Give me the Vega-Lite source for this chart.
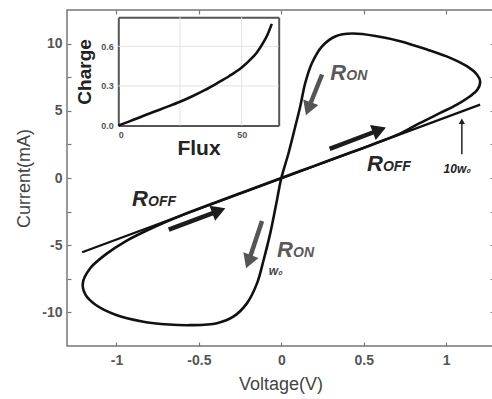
{
  "$schema": "https://vega.github.io/schema/vega-lite/v6.json",
  "width": 427,
  "height": 336,
  "autosize": {"type": "none"},
  "padding": {"left": 67, "top": 10, "right": 0, "bottom": 53},
  "background": "white",
  "config": {
    "view": {"stroke": "#777", "strokeWidth": 1.5},
    "font": "Liberation Sans",
    "axis": {"domain": false, "grid": false, "labelFont": "Liberation Sans", "titleFont": "Liberation Sans"}
  },
  "datasets": {
    "loop": [
      {"i": 0, "V": 0, "I": 0}, {"i": 1, "V": 0.2, "I": 0.9}, {"i": 2, "V": 0.4, "I": 1.8},
      {"i": 3, "V": 0.55, "I": 2.48}, {"i": 4, "V": 0.72, "I": 3.3}, {"i": 5, "V": 0.842, "I": 4.1},
      {"i": 6, "V": 0.964, "I": 4.84}, {"i": 7, "V": 1.065, "I": 5.46}, {"i": 8, "V": 1.145, "I": 6.08},
      {"i": 9, "V": 1.19, "I": 6.58}, {"i": 10, "V": 1.206, "I": 7.2}, {"i": 11, "V": 1.186, "I": 7.7},
      {"i": 12, "V": 1.125, "I": 8.32}, {"i": 13, "V": 1.024, "I": 8.94}, {"i": 14, "V": 0.883, "I": 9.56},
      {"i": 15, "V": 0.721, "I": 10.18}, {"i": 16, "V": 0.58, "I": 10.55}, {"i": 17, "V": 0.43, "I": 10.75},
      {"i": 18, "V": 0.33, "I": 10.55}, {"i": 19, "V": 0.247, "I": 9.8}, {"i": 20, "V": 0.186, "I": 8.56},
      {"i": 21, "V": 0.145, "I": 7.07}, {"i": 22, "V": 0.115, "I": 5.34}, {"i": 23, "V": 0.085, "I": 3.85},
      {"i": 24, "V": 0.044, "I": 1.86}, {"i": 25, "V": 0, "I": 0}, {"i": 26, "V": -0.026, "I": -1.61},
      {"i": 27, "V": -0.067, "I": -4.1}, {"i": 28, "V": -0.107, "I": -6.08}, {"i": 29, "V": -0.147, "I": -7.82},
      {"i": 30, "V": -0.208, "I": -9.31}, {"i": 31, "V": -0.289, "I": -10.3}, {"i": 32, "V": -0.39, "I": -10.8},
      {"i": 33, "V": -0.55, "I": -10.95}, {"i": 34, "V": -0.683, "I": -10.9}, {"i": 35, "V": -0.844, "I": -10.67},
      {"i": 36, "V": -1.006, "I": -10.17}, {"i": 37, "V": -1.127, "I": -9.43}, {"i": 38, "V": -1.188, "I": -8.68},
      {"i": 39, "V": -1.204, "I": -7.82}, {"i": 40, "V": -1.158, "I": -6.7}, {"i": 41, "V": -1.067, "I": -5.7},
      {"i": 42, "V": -0.945, "I": -4.71}, {"i": 43, "V": -0.784, "I": -3.72}, {"i": 44, "V": -0.6, "I": -2.75},
      {"i": 45, "V": -0.4, "I": -1.82}, {"i": 46, "V": -0.2, "I": -0.91}, {"i": 47, "V": 0, "I": 0}
    ],
    "line": [
      {"V": -1.208, "I": -5.53}, {"V": 1.206, "I": 5.46}
    ],
    "arrows": [
      {"kind": "off", "V": 0.293, "I": 2.16, "V2": 0.595, "I2": 3.57},
      {"kind": "off", "V": -0.683, "I": -3.84, "V2": -0.379, "I2": -2.44},
      {"kind": "on", "V": 0.247, "I": 7.7, "V2": 0.164, "I2": 5.15},
      {"kind": "on", "V": -0.117, "I": -3.2, "V2": -0.199, "I2": -6.23}
    ],
    "pointer": [
      {"V": 1.095, "I": 1.76, "I2": 4.23}
    ],
    "labels": [
      {"kind": "on", "V": 0.297, "I": 7.3, "main": "R", "sub": "ON"},
      {"kind": "on", "V": -0.026, "I": -5.9, "main": "R", "sub": "ON"},
      {"kind": "off", "V": 0.519, "I": 0.5, "main": "R", "sub": "OFF"},
      {"kind": "off", "V": -0.905, "I": -2.1, "main": "R", "sub": "OFF"}
    ],
    "notes": [
      {"kind": "on", "V": -0.077, "I": -7.2, "text": "w₀"},
      {"kind": "off", "V": 0.984, "I": 0.37, "text": "10w₀"}
    ],
    "flux": [
      {"f": 0, "q": 0}, {"f": 5, "q": 0.035}, {"f": 10, "q": 0.072}, {"f": 15, "q": 0.108},
      {"f": 20, "q": 0.143}, {"f": 25, "q": 0.18}, {"f": 30, "q": 0.222}, {"f": 35, "q": 0.268},
      {"f": 40, "q": 0.32}, {"f": 45, "q": 0.375}, {"f": 50, "q": 0.44}, {"f": 53, "q": 0.49},
      {"f": 56, "q": 0.55}, {"f": 58.5, "q": 0.62}, {"f": 60.5, "q": 0.69}, {"f": 62.2, "q": 0.77}
    ],
    "fluxGrid": [{"f": 25}, {"f": 50}],
    "chargeGrid": [{"q": 0.3}, {"q": 0.6}]
  },
  "resolve": {"scale": {"x": "independent", "y": "independent", "color": "independent", "angle": "independent"}},
  "layer": [
    {
      "data": {"name": "fluxGrid"},
      "mark": {"type": "rule", "color": "#e2e2e2", "strokeWidth": 1},
      "encoding": {
        "x": {"field": "f", "type": "quantitative", "scale": {"domain": [0, 65], "range": [51.3, 211.7], "nice": false, "zero": false}, "axis": null},
        "y": {"datum": 0, "type": "quantitative", "scale": {"domain": [0, 0.82], "range": [115.5, 7.3], "nice": false, "zero": false}, "axis": null},
        "y2": {"datum": 0.82}
      }
    },
    {
      "data": {"name": "chargeGrid"},
      "mark": {"type": "rule", "color": "#e2e2e2", "strokeWidth": 1},
      "encoding": {
        "x": {"datum": 0, "type": "quantitative", "scale": {"domain": [0, 65], "range": [51.3, 211.7], "nice": false, "zero": false}, "axis": null},
        "x2": {"datum": 65},
        "y": {"field": "q", "type": "quantitative", "scale": {"domain": [0, 0.82], "range": [115.5, 7.3], "nice": false, "zero": false}, "axis": null}
      }
    },
    {
      "data": {"name": "loop"},
      "mark": {"type": "line", "interpolate": "catmull-rom", "color": "#111", "strokeWidth": 2.6},
      "encoding": {
        "x": {"field": "V", "type": "quantitative", "scale": {"domain": [-1.3, 1.29], "nice": false, "zero": false},
          "axis": {"orient": "bottom", "values": [-1, -0.5, 0, 0.5, 1], "format": "~g", "tickSize": -4, "tickColor": "#777", "tickWidth": 1.2,
            "labelPadding": 11, "labelFontSize": 14, "labelFontWeight": "bold", "labelColor": "#555",
            "labelExpr": "replace(datum.label, '−', '-')",
            "title": "Voltage(V)", "titleFontSize": 18, "titleFontWeight": "normal", "titleColor": "#444", "titlePadding": 8}},
        "y": {"field": "I", "type": "quantitative", "scale": {"domain": [-12.5, 12.5], "nice": false, "zero": false},
          "axis": {"orient": "left", "values": [-10, -7.5, -5, -2.5, 0, 2.5, 5, 7.5, 10], "format": "~g", "tickSize": -4, "tickColor": "#777", "tickWidth": 1.2,
            "labelPadding": 9, "labelFontSize": 14, "labelFontWeight": "bold", "labelColor": "#555",
            "labelExpr": "datum.value % 5 == 0 ? replace(datum.label, '−', '-') : ''",
            "title": "Current(mA)", "titleFontSize": 18, "titleFontWeight": "normal", "titleColor": "#444", "titlePadding": 8}},
        "order": {"field": "i", "type": "quantitative"}
      }
    },
    {
      "data": {"name": "line"},
      "mark": {"type": "line", "color": "#111", "strokeWidth": 2.2},
      "encoding": {
        "x": {"field": "V", "type": "quantitative", "scale": {"domain": [-1.3, 1.29], "nice": false, "zero": false},
          "axis": {"orient": "top", "values": [-1, -0.5, 0, 0.5, 1], "tickSize": -4, "tickColor": "#777", "tickWidth": 1.2, "labels": false, "title": null}},
        "y": {"field": "I", "type": "quantitative", "scale": {"domain": [-12.5, 12.5], "nice": false, "zero": false},
          "axis": {"orient": "right", "values": [-10, -7.5, -5, -2.5, 0, 2.5, 5, 7.5, 10], "tickSize": -4, "tickColor": "#777", "tickWidth": 1.2, "labels": false, "title": null}}
      }
    },
    {
      "data": {"name": "arrows"},
      "mark": {"type": "rule", "strokeWidth": 4.5, "strokeCap": "butt"},
      "encoding": {
        "x": {"field": "V", "type": "quantitative", "scale": {"domain": [-1.3, 1.29], "nice": false, "zero": false}, "axis": null},
        "y": {"field": "I", "type": "quantitative", "scale": {"domain": [-12.5, 12.5], "nice": false, "zero": false}, "axis": null},
        "x2": {"field": "V2"},
        "y2": {"field": "I2"},
        "color": {"field": "kind", "type": "nominal", "scale": {"domain": ["off", "on"], "range": ["#1c1c1c", "#555555"]}, "legend": null}
      }
    },
    {
      "data": {"name": "arrows"},
      "mark": {"type": "point", "shape": "triangle-right", "filled": true, "opacity": 1, "size": 260},
      "encoding": {
        "x": {"field": "V2", "type": "quantitative", "scale": {"domain": [-1.3, 1.29], "nice": false, "zero": false}, "axis": null},
        "y": {"field": "I2", "type": "quantitative", "scale": {"domain": [-12.5, 12.5], "nice": false, "zero": false}, "axis": null},
        "angle": {"field": "kind", "type": "nominal", "scale": {"domain": ["off", "on"], "range": [339.4, 110.5]}, "legend": null},
        "color": {"field": "kind", "type": "nominal", "scale": {"domain": ["off", "on"], "range": ["#1c1c1c", "#555555"]}, "legend": null}
      }
    },
    {
      "data": {"name": "pointer"},
      "mark": {"type": "rule", "strokeWidth": 1.5, "color": "#222"},
      "encoding": {
        "x": {"field": "V", "type": "quantitative", "scale": {"domain": [-1.3, 1.29], "nice": false, "zero": false}, "axis": null},
        "y": {"field": "I", "type": "quantitative", "scale": {"domain": [-12.5, 12.5], "nice": false, "zero": false}, "axis": null},
        "y2": {"field": "I2"}
      }
    },
    {
      "data": {"name": "pointer"},
      "mark": {"type": "point", "shape": "triangle-up", "filled": true, "opacity": 1, "size": 40, "color": "#222"},
      "encoding": {
        "x": {"field": "V", "type": "quantitative", "scale": {"domain": [-1.3, 1.29], "nice": false, "zero": false}, "axis": null},
        "y": {"field": "I2", "type": "quantitative", "scale": {"domain": [-12.5, 12.5], "nice": false, "zero": false}, "axis": null}
      }
    },
    {
      "data": {"name": "labels"},
      "mark": {"type": "text", "align": "left", "baseline": "alphabetic", "font": "Liberation Sans", "fontSize": 22, "fontWeight": "bold", "fontStyle": "italic"},
      "encoding": {
        "x": {"field": "V", "type": "quantitative", "scale": {"domain": [-1.3, 1.29], "nice": false, "zero": false}, "axis": null},
        "y": {"field": "I", "type": "quantitative", "scale": {"domain": [-12.5, 12.5], "nice": false, "zero": false}, "axis": null},
        "text": {"field": "main"},
        "color": {"field": "kind", "type": "nominal", "scale": {"domain": ["off", "on"], "range": ["#262626", "#595959"]}, "legend": null}
      }
    },
    {
      "data": {"name": "labels"},
      "mark": {"type": "text", "align": "left", "baseline": "alphabetic", "dx": 16, "font": "Liberation Sans", "fontSize": 14, "fontWeight": "bold", "fontStyle": "italic"},
      "encoding": {
        "x": {"field": "V", "type": "quantitative", "scale": {"domain": [-1.3, 1.29], "nice": false, "zero": false}, "axis": null},
        "y": {"field": "I", "type": "quantitative", "scale": {"domain": [-12.5, 12.5], "nice": false, "zero": false}, "axis": null},
        "text": {"field": "sub"},
        "color": {"field": "kind", "type": "nominal", "scale": {"domain": ["off", "on"], "range": ["#262626", "#595959"]}, "legend": null}
      }
    },
    {
      "data": {"name": "notes"},
      "mark": {"type": "text", "align": "left", "baseline": "alphabetic", "font": "Liberation Sans", "fontSize": 12, "fontWeight": "bold", "fontStyle": "italic"},
      "encoding": {
        "x": {"field": "V", "type": "quantitative", "scale": {"domain": [-1.3, 1.29], "nice": false, "zero": false}, "axis": null},
        "y": {"field": "I", "type": "quantitative", "scale": {"domain": [-12.5, 12.5], "nice": false, "zero": false}, "axis": null},
        "text": {"field": "text"},
        "color": {"field": "kind", "type": "nominal", "scale": {"domain": ["off", "on"], "range": ["#222222", "#444444"]}, "legend": null}
      }
    },
    {
      "data": {"name": "flux"},
      "mark": {"type": "line", "interpolate": "monotone", "color": "#111", "strokeWidth": 2.6},
      "encoding": {
        "x": {"field": "f", "type": "quantitative", "scale": {"domain": [0, 65], "range": [51.3, 211.7], "nice": false, "zero": false},
          "axis": {"orient": "bottom", "offset": -220.5, "values": [0, 50], "ticks": false, "domain": true, "domainColor": "#555", "domainWidth": 2,
            "grid": false,
            "labelPadding": 5, "labelFontSize": 9, "labelFontWeight": "bold", "labelColor": "#555",
            "title": "Flux", "titleFontSize": 21, "titleFontWeight": "bold", "titleColor": "#222", "titlePadding": -2}},
        "y": {"field": "q", "type": "quantitative", "scale": {"domain": [0, 0.82], "range": [115.5, 7.3], "nice": false, "zero": false},
          "axis": {"orient": "left", "offset": -51.3, "values": [0, 0.3, 0.6], "format": ".1f", "ticks": false, "domain": true, "domainColor": "#555", "domainWidth": 2,
            "grid": false,
            "labelPadding": 5, "labelFontSize": 9, "labelFontWeight": "bold", "labelColor": "#555",
            "title": "Charge", "titleFontSize": 19, "titleFontWeight": "bold", "titleColor": "#222", "titlePadding": 6}}
      }
    },
    {
      "data": {"name": "flux"},
      "mark": {"type": "line", "strokeOpacity": 0},
      "encoding": {
        "x": {"field": "f", "type": "quantitative", "scale": {"domain": [0, 65], "range": [51.3, 211.7], "nice": false, "zero": false},
          "axis": {"orient": "top", "offset": -7.3, "ticks": false, "labels": false, "domain": true, "domainColor": "#555", "domainWidth": 2, "grid": false, "title": null}},
        "y": {"field": "q", "type": "quantitative", "scale": {"domain": [0, 0.82], "range": [115.5, 7.3], "nice": false, "zero": false},
          "axis": {"orient": "right", "offset": -215.3, "ticks": false, "labels": false, "domain": true, "domainColor": "#555", "domainWidth": 2, "grid": false, "title": null}}
      }
    }
  ]
}
